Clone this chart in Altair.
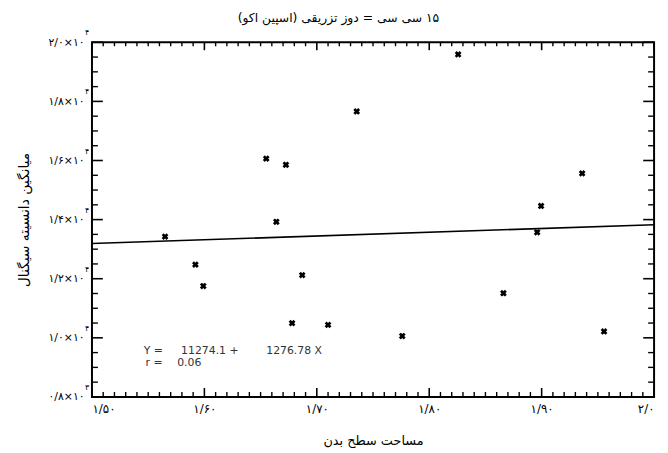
import json
import altair as alt
import pandas as pd

# ---- data ----
x_vals = [1.565, 1.592, 1.599, 1.655, 1.664, 1.6725, 1.687, 1.678, 1.710,
          1.7355, 1.776, 1.8257, 1.866, 1.896, 1.8995, 1.936, 1.9555]
y_vals = [13425, 12478, 11753, 16065, 13926, 15855, 12121, 10496, 10439,
          17660, 10061, 19589, 11509, 13571, 14461, 15564, 10215]

fit_x = [1.5, 2.0]
fit_y = [13189, 13827]

x_ticks = [1.5, 1.6, 1.7, 1.8, 1.9, 2.0]
x_labels = ["۱/۵۰", "۱/۶۰", "۱/۷۰", "۱/۸۰", "۱/۹۰", "۲/۰"]
y_ticks = [8000, 10000, 12000, 14000, 16000, 18000, 20000]
y_labels = ["۰/۸×۱۰", "۱/۰×۱۰", "۱/۲×۱۰", "۱/۴×۱۰", "۱/۶×۱۰", "۱/۸×۱۰", "۲/۰×۱۰"]
y_exps = ["۳", "۴", "۴", "۴", "۴", "۴", "۴"]
x_minor = [round(1.5 + i * 0.01, 2) for i in range(51) if i % 10]
y_minor = [8000 + i * 500 for i in range(25) if i % 4]

# regression annotation pieces (position in data units, text)
note_x = [1.546, 1.5793, 1.655, 1.5477, 1.5758]
note_y = [9540, 9540, 9540, 9140, 9140]
note_text = ["Y =", "11274.1 +", "1276.78 X", "r =", "0.06"]

title_text = "\u202b۱۵ سی سی = دوز تزریقی (اسپین اکو)\u202c"
x_title = "مساحت سطح بدن"
y_title = "میانگین دانسیته سیگنال"

W, H = 569, 359
FONT = "DejaVu Sans"

pts = pd.DataFrame({"x": x_vals, "y": y_vals})
fit = pd.DataFrame({"x": fit_x, "y": fit_y})
xmaj = pd.DataFrame({"v": x_ticks})
xmin = pd.DataFrame({"v": x_minor})
ymaj = pd.DataFrame({"v": y_ticks, "e": y_exps})
ymin = pd.DataFrame({"v": y_minor})
notes = pd.DataFrame({"x": note_x, "y": note_y, "t": note_text})

xs = alt.Scale(domain=[1.5, 2.0], nice=False, zero=False)
ys = alt.Scale(domain=[8000, 20000], nice=False, zero=False)

x_label_expr = json.dumps(x_labels, ensure_ascii=False) + "[round((datum.value-1.5)*10)]"
y_label_expr = json.dumps(y_labels, ensure_ascii=False) + "[round((datum.value-8000)/2000)]"

x_axis = alt.Axis(
    values=x_ticks, labelExpr=x_label_expr, ticks=False, domain=False, grid=False,
    labelFont=FONT, labelFontSize=12, labelColor="black", labelPadding=7,
    labelOverlap=False, title=x_title, titleFont=FONT, titleFontSize=13,
    titleFontWeight="normal", titleColor="black", titlePadding=20)
y_axis = alt.Axis(
    values=y_ticks, labelExpr=y_label_expr, ticks=False, domain=False, grid=False,
    labelFont=FONT, labelFontSize=11, labelColor="black", labelPadding=8,
    labelOverlap=False, title=y_title, titleFont=FONT, titleFontSize=14,
    titleFontWeight="normal", titleColor="black", titlePadding=17)


def X(f):
    return alt.X(f, scale=xs, axis=x_axis)


def Y(f):
    return alt.Y(f, scale=ys, axis=y_axis)


scatter = alt.Chart(pts).mark_point(
    shape="cross", angle=45, filled=True, color="black", size=48, opacity=1
).encode(x=X("x:Q"), y=Y("y:Q"))

line = alt.Chart(fit).mark_line(color="black", strokeWidth=1.6).encode(
    x=X("x:Q"), y=Y("y:Q"))


def xt(df, top, length, sw):
    if top:
        yy, yy2 = alt.value(0), alt.value(length)
    else:
        yy, yy2 = alt.value(H), alt.value(H - length)
    return alt.Chart(df).mark_rule(color="black", strokeWidth=sw).encode(
        x=X("v:Q"), y=yy, y2=yy2)


def yt(df, left, length, sw):
    if left:
        xx, xx2 = alt.value(0), alt.value(length)
    else:
        xx, xx2 = alt.value(W), alt.value(W - length)
    return alt.Chart(df).mark_rule(color="black", strokeWidth=sw).encode(
        y=Y("v:Q"), x=xx, x2=xx2)


ticks = [
    xt(xmaj, False, 9, 1.6), xt(xmaj, True, 8, 1.6),
    xt(xmin, False, 5, 1.4), xt(xmin, True, 4, 1.4),
    yt(ymaj, True, 11, 1.6), yt(ymaj, False, 11, 1.6),
    yt(ymin, True, 6, 1.4), yt(ymin, False, 6, 1.4),
]

exps = alt.Chart(ymaj).mark_text(
    font=FONT, fontSize=8, color="black", align="left", dy=-9
).encode(y=Y("v:Q"), x=alt.value(-7), text="e:N")

note = alt.Chart(notes).mark_text(
    font="DejaVu Sans", fontSize=11, color="#333", align="left", baseline="middle"
).encode(x=X("x:Q"), y=Y("y:Q"), text="t:N")

chart = alt.layer(scatter, line, *ticks, exps, note).properties(
    width=W, height=H,
    autosize=alt.AutoSizeParams(type="none"),
    padding={"left": 85, "top": 32, "right": 6, "bottom": 50},
    title=alt.TitleParams(title_text, font=FONT, fontSize=12.5, fontWeight="normal",
                          color="black", anchor="middle", offset=5, dx=-35),
    background="white",
).configure_view(stroke="black", strokeWidth=2)

chart.save("out.html", embed_options={"renderer": "svg", "actions": False})
